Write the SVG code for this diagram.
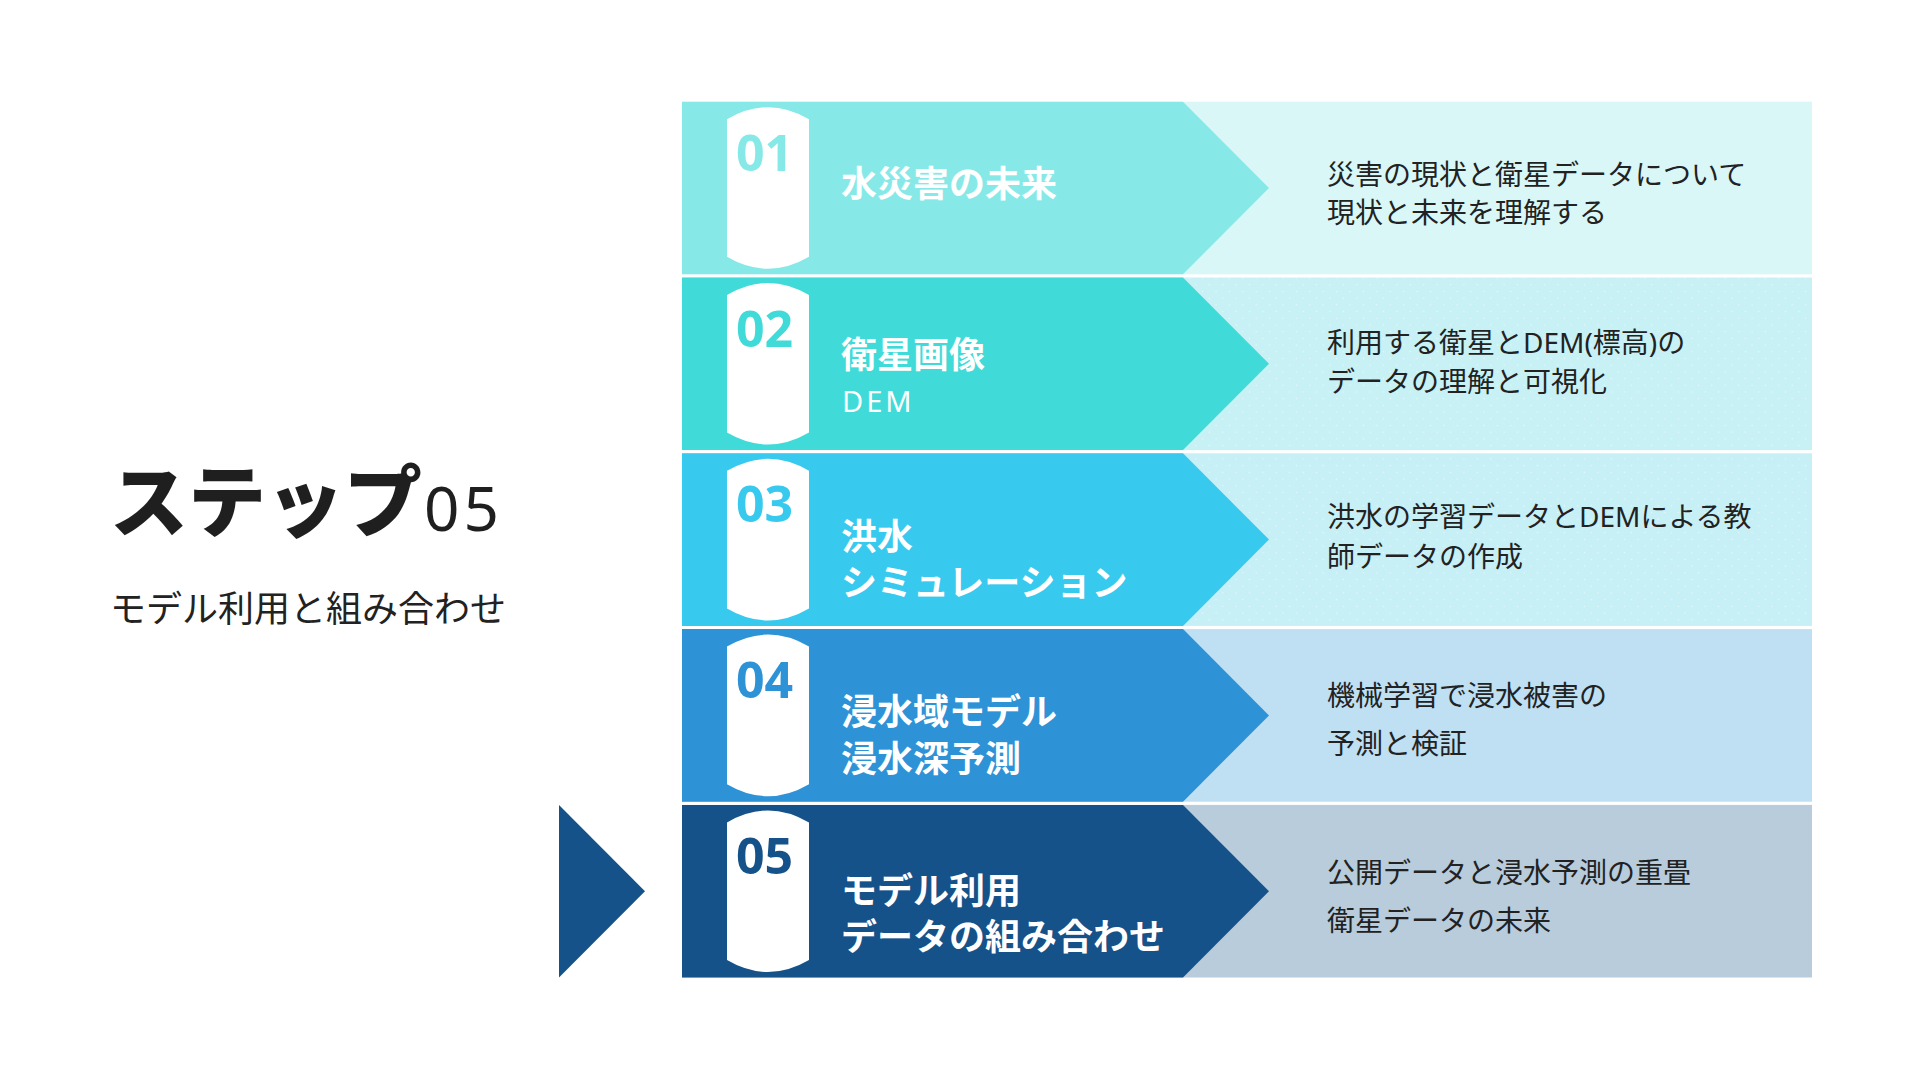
<svg xmlns="http://www.w3.org/2000/svg" width="1920" height="1080" viewBox="0 0 1920 1080">
  <style>
    .num { font-family: "Open Sans", "Noto Sans", sans-serif; font-weight: 700; font-size: 50px; }
    .ttl { font-family: "Noto Sans", "Noto Sans CJK JP", sans-serif; font-weight: 700; font-size: 36px; fill: #ffffff; }
    .sub { font-family: "Noto Sans", "Noto Sans CJK JP", sans-serif; font-weight: 400; font-size: 29px; fill: #ffffff; letter-spacing: 3px; }
    .desc { font-family: "Noto Sans", "Noto Sans CJK JP", sans-serif; font-weight: 400; font-size: 28px; fill: #222222; }
    .cyl { fill: #ffffff; }
  </style>
  <defs>
    <pattern id="dots" width="13.4" height="13.4" patternUnits="userSpaceOnUse">
      <circle cx="3.35" cy="3.35" r="0.8" fill="#ffffff" fill-opacity="0.55"/>
      <circle cx="10.05" cy="10.05" r="0.8" fill="#ffffff" fill-opacity="0.55"/>
    </pattern>
  </defs>
  <rect width="1920" height="1080" fill="#ffffff"/>

  <g id="heading">
    <text x="110" y="531" font-family="Noto Sans, Noto Sans CJK JP, sans-serif" fill="#1f1f1f"><tspan font-family="Noto Sans CJK JP, sans-serif" font-weight="900" font-size="78">ステップ</tspan><tspan dx="2" font-family="Noto Sans, sans-serif" font-weight="400" font-size="62" letter-spacing="4">05</tspan></text>
    <text x="110" y="622" font-family="Noto Sans, Noto Sans CJK JP, sans-serif" font-size="36" fill="#222222">モデル利用と組み合わせ</text>
  </g>

  <g id="connectors">
    <polygon points="559,805 645,891.2 559,977.5" fill="#155289"/>
  </g>

  <g id="step01">
    <rect x="682" y="101.7" width="1130" height="172.6" fill="#DAF7F7"/>
    <polygon points="682,101.7 1183,101.7 1269,188 1183,274.3 682,274.3" fill="#87E9E7"/>
    <path class="cyl" d="M727,119.2 Q768,95.2 809,119.2 L809,256.8 Q768,280.8 727,256.8 Z"/>
    <text class="num" x="736" y="170.7" fill="#87E9E7">01</text>
    <text class="ttl" x="841" y="197">水災害の未来</text>
    <text class="desc" x="1327" y="184.6">災害の現状と衛星データについて</text>
    <text class="desc" x="1327" y="223.1">現状と未来を理解する</text>
  </g>

  <g id="step02">
    <rect x="682" y="277.5" width="1130" height="172.6" fill="#C7F1F5"/>
    <rect x="1183" y="277.5" width="629" height="172.6" fill="url(#dots)"/>
    <polygon points="682,277.5 1183,277.5 1269,363.8 1183,450.1 682,450.1" fill="#40DBD8"/>
    <path class="cyl" d="M727,295 Q768,271 809,295 L809,432.6 Q768,456.6 727,432.6 Z"/>
    <text class="num" x="736" y="346.5" fill="#40DBD8">02</text>
    <text class="ttl" x="841" y="367.7">衛星画像</text>
    <text class="sub" x="842" y="411.7">DEM</text>
    <text class="desc" x="1327" y="352.9">利用する衛星とDEM(標高)の</text>
    <text class="desc" x="1327" y="392.3">データの理解と可視化</text>
  </g>

  <g id="step03">
    <rect x="682" y="453.3" width="1130" height="172.6" fill="#C7EFF6"/>
    <rect x="1183" y="453.3" width="629" height="172.6" fill="url(#dots)"/>
    <polygon points="682,453.3 1183,453.3 1269,539.6 1183,625.9 682,625.9" fill="#38C9EF"/>
    <path class="cyl" d="M727,470.8 Q768,446.8 809,470.8 L809,608.4 Q768,632.4 727,608.4 Z"/>
    <text class="num" x="736" y="522.3" fill="#38C9EF">03</text>
    <text class="ttl" x="841" y="549.7">洪水</text>
    <text class="ttl" x="841" y="595.7">シミュレーション</text>
    <text class="desc" x="1327" y="527.3">洪水の学習データとDEMによる教</text>
    <text class="desc" x="1327" y="567.3">師データの作成</text>
  </g>

  <g id="step04">
    <rect x="682" y="629.1" width="1130" height="172.6" fill="#BFDFF2"/>
    <polygon points="682,629.1 1183,629.1 1269,715.4 1183,801.7 682,801.7" fill="#2E92D6"/>
    <path class="cyl" d="M727,646.6 Q768,622.6 809,646.6 L809,784.2 Q768,808.2 727,784.2 Z"/>
    <text class="num" x="736" y="698.1" fill="#2E92D6">04</text>
    <text class="ttl" x="841" y="725.4">浸水域モデル</text>
    <text class="ttl" x="841" y="772">浸水深予測</text>
    <text class="desc" x="1327" y="706.4">機械学習で浸水被害の</text>
    <text class="desc" x="1327" y="754">予測と検証</text>
  </g>

  <g id="step05">
    <rect x="682" y="804.9" width="1130" height="172.6" fill="#B8CCDC"/>
    <polygon points="682,804.9 1183,804.9 1269,891.2 1183,977.5 682,977.5" fill="#155289"/>
    <path class="cyl" d="M727,822.4 Q768,798.4 809,822.4 L809,960 Q768,984 727,960 Z"/>
    <text class="num" x="736" y="873.9" fill="#155289">05</text>
    <text class="ttl" x="841" y="903.7">モデル利用</text>
    <text class="ttl" x="841" y="949.7">データの組み合わせ</text>
    <text class="desc" x="1327" y="883">公開データと浸水予測の重畳</text>
    <text class="desc" x="1327" y="930.6">衛星データの未来</text>
  </g>
</svg>
